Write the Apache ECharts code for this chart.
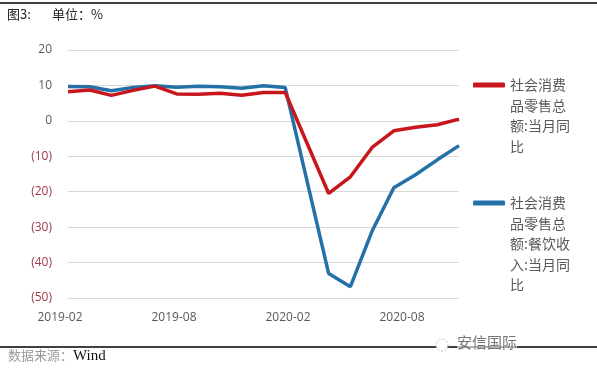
<!DOCTYPE html>
<html><head><meta charset="utf-8">
<script src="https://cdn.jsdelivr.net/npm/echarts@6/dist/echarts.min.js"></script>
<style>html,body{margin:0;padding:0;background:#fff}#c{width:597px;height:369px}</style>
</head><body><div id="c"></div>
<script>
var months = ['2019-02','2019-03','2019-04','2019-05','2019-06','2019-07','2019-08','2019-09','2019-10','2019-11','2019-12','2020-01','2020-02','2020-03','2020-04','2020-05','2020-06','2020-07','2020-08'];
var retailYoY = [8.2, 8.7, 7.2, 8.6, 9.8, 7.6, 7.5, 7.8, 7.2, 8.0, 8.0, null, -20.5, -15.8, -7.5, -2.8, -1.8, -1.1, 0.5];
var cateringYoY = [9.7, 9.6, 8.5, 9.4, 9.9, 9.5, 9.8, 9.6, 9.2, 9.9, 9.4, null, -43.1, -46.8, -31.1, -18.9, -15.2, -11.0, -7.0];
var xTickLabels = ['2019-02','2019-08','2020-02','2020-08'];
var seriesNames = ['社会消费品零售总额:当月同比', '社会消费品零售总额:餐饮收入:当月同比'];
var legendLines = {};
legendLines[seriesNames[0]] = ['社会消费','品零售总','额:当月同','比'];
legendLines[seriesNames[1]] = ['社会消费','品零售总','额:餐饮收','入:当月同','比'];

var chart = echarts.init(document.getElementById('c'), null, {renderer:'canvas'});
var LH = 20.5;
function legendText(n){
  var lines = legendLines[n];
  var pre = [];
  for (var i = 0; i < lines.length - 1; i++) pre.push('{b| }');
  return pre.concat(lines.map(function(s){return '{t|' + s + '}';})).join('\n');
}
function legendCfg(name, firstLineY){
  var n = legendLines[name].length;
  var total = LH * (2 * n - 1);
  return {
    data:[name], left:473, top:firstLineY - total/2, orient:'vertical', padding:0,
    icon:'roundRect', itemWidth:32, itemHeight:5, itemGap:0,
    formatter:legendText,
    textStyle:{fontFamily:'Noto Sans CJK SC', fontSize:14, color:'#595959', lineHeight:LH,
      rich:{t:{fontFamily:'Noto Sans CJK SC', fontSize:14, color:'#595959', lineHeight:LH},
            b:{fontSize:14, lineHeight:LH, color:'rgba(0,0,0,0)'}}},
    selectedMode:false
  };
}
chart.setOption({
  animation:false,
  backgroundColor:'#fff',
  grid:[
    {left:68, right:138, top:50, bottom:71},
    {left:60, right:195, top:50, bottom:71}
  ],
  xAxis:[
    {type:'category', gridIndex:0, data:months, boundaryGap:false,
     axisLine:{lineStyle:{color:'#d9d9d9'}}, axisTick:{show:false}, axisLabel:{show:false}},
    {type:'category', gridIndex:1, data:xTickLabels, boundaryGap:false,
     axisLine:{show:false}, axisTick:{show:false},
     axisLabel:{margin:14, color:'#595959', fontSize:12, fontFamily:'Open Sans', interval:0}}
  ],
  yAxis:[
    {type:'value', gridIndex:0, min:-50, max:20, interval:10,
     axisLine:{show:false}, axisTick:{show:false},
     splitLine:{lineStyle:{color:'#d9d9d9'}},
     axisLabel:{margin:16, color:'#595959', fontSize:12, fontFamily:'Open Sans',
       formatter:function(v){return v<0 ? '{n|(' + (-v) + ')}' : String(v);},
       rich:{n:{color:'#a0384a', fontSize:12, fontFamily:'Open Sans'}}}},
    {type:'value', gridIndex:1, show:false}
  ],
  legend:[
    legendCfg(seriesNames[0], 85),
    legendCfg(seriesNames[1], 203)
  ],
  graphic:[
    {type:'line', shape:{x1:0,y1:3,x2:597,y2:3}, style:{stroke:'#000', lineWidth:1.5}},
    {type:'text', left:7, top:8, style:{text:'图3:', font:'13px "Noto Sans CJK SC"', fill:'#222'}},
    {type:'text', left:52, top:8, style:{text:'单位：%', font:'13px "Noto Sans CJK SC"', fill:'#222'}},
    {type:'line', shape:{x1:0,y1:347,x2:597,y2:347}, style:{stroke:'#000', lineWidth:1.5}},
    {type:'text', left:8, top:349, style:{text:'数据来源：', font:'13px "Noto Sans CJK SC"', fill:'#9a9a9a'}},
    {type:'text', left:73, top:349, style:{text:'Wind', font:'15px "Liberation Serif"', fill:'#111'}},
    {type:'circle', shape:{cx:442, cy:345, r:6}, style:{fill:'#fff', stroke:'#bbb', lineWidth:1, lineDash:[2,2]}},
    {type:'text', left:457, top:335, style:{text:'安信国际', font:'15px "Noto Sans CJK SC"', fill:'#777', backgroundColor:'rgba(255,255,255,0.6)'}}
  ],
  series:[
    {name:seriesNames[0], type:'line', xAxisIndex:0, yAxisIndex:0, data:retailYoY, connectNulls:true,
     showSymbol:false, symbol:'none', lineStyle:{color:'#c8161d', width:3.5}, itemStyle:{color:'#c8161d'}, z:3},
    {name:seriesNames[1], type:'line', xAxisIndex:0, yAxisIndex:0, data:cateringYoY, connectNulls:true,
     showSymbol:false, symbol:'none', lineStyle:{color:'#2471a8', width:3.5}, itemStyle:{color:'#2471a8'}, z:2}
  ]
});
</script></body></html>
